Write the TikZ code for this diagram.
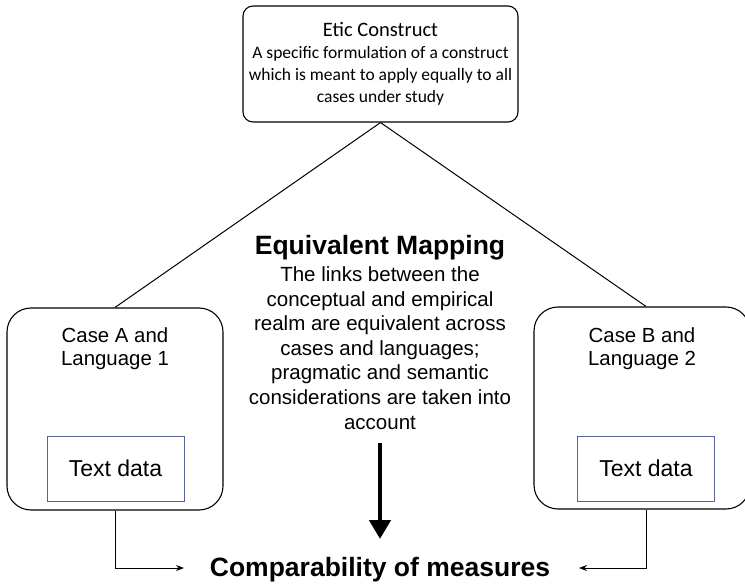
\documentclass[tikz,border=0pt]{standalone}
\usepackage{fontspec}
\setmainfont{Liberation Sans}
\newfontfamily\calibri{Carlito}
\usetikzlibrary{arrows.meta}
\definecolor{databorder}{RGB}{85,100,150}

\begin{document}
\begin{tikzpicture}[x=1pt, y=-1pt,
        etic/.style={rectangle, rounded corners=10pt, draw, line width=1.1pt, minimum width=275pt, minimum height=116pt, align=center, font=\calibri\fontsize{17.5}{22}\selectfont},
        casebox/.style={rectangle, rounded corners=24pt, draw, line width=1.1pt, minimum width=216pt, minimum height=202pt},
        casetext/.style={align=center, font=\fontsize{20.4}{23}\selectfont},
        databox/.style={rectangle, draw=databorder, line width=1pt, minimum width=137pt, minimum height=65pt, font=\fontsize{23}{26}\selectfont},
        heading/.style={font=\bfseries\fontsize{26.5}{30}\selectfont},
        body/.style={align=center, font=\fontsize{20.5}{24.6}\selectfont},
        link/.style={line width=1pt},
        feed/.style={-{Stealth[length=8pt,width=6pt]}, line width=0.9pt},
        bigarrow/.style={-{Triangle[length=19pt,width=21pt]}, line width=4.5pt}
    ]
    \useasboundingbox (0,0) rectangle (745,586);

    \node[etic] (etic) at (380.5,64) {{\fontsize{20.5}{22}\selectfont Etic Construct}\\A specific formulation of a construct\\which is meant to apply equally to all\\cases under study};

    \node[casebox] (caseA) at (115,409) {};
    \node[casetext] (caseAtext) at (115,349) {Case A and\\Language 1};
    \node[databox] (dataA) at (115.5,468.5) {Text data};

    \node[casebox] (caseB) at (642,408) {};
    \node[casetext] (caseBtext) at (642,349) {Case B and\\Language 2};
    \node[databox] (dataB) at (646,468.5) {Text data};

    \node[heading] (mapping) at (380,248) {Equivalent Mapping};
    \node[body] (mapbody) at (380,348) {The links between the\\conceptual and empirical\\realm are equivalent across\\cases and languages;\\pragmatic and semantic\\considerations are taken into\\account};

    \node[heading] (comp) at (380,570) {Comparability of measures};
    \coordinate (inA) at (184,568);
    \coordinate (inB) at (579,568);
    \coordinate (arrowtop) at (380,443);
    \coordinate (arrowtip) at (380,539);

    \draw[link] (etic.south) -- (caseA.north);
    \draw[link] (etic.south) -- ([xshift=4pt]caseB.north);
    \draw[bigarrow] (arrowtop) -- (arrowtip);
    \draw[feed] (caseA.south) |- (inA);
    \draw[feed] ([xshift=4pt]caseB.south) |- (inB);

\end{tikzpicture}
\end{document}
